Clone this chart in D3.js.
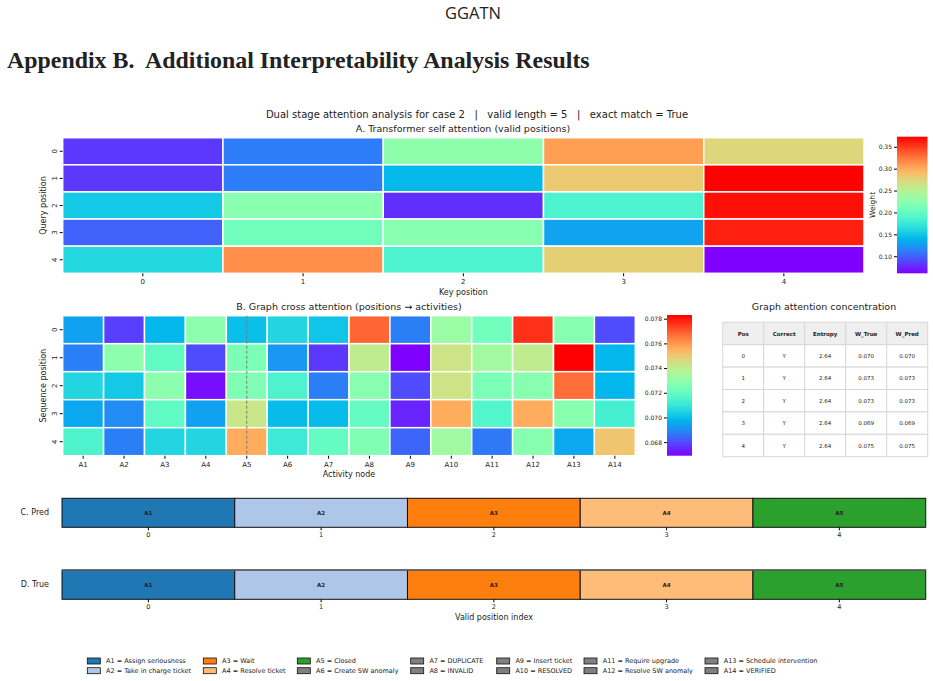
<!DOCTYPE html>
<html>
<head>
<meta charset="utf-8">
<script src="https://cdn.jsdelivr.net/npm/d3@7"></script>
<style>
  body { margin: 0; background: #fff; }
  svg { display: block; }
  text { font-family: "DejaVu Sans", sans-serif; fill: #222; }
</style>
</head>
<body>
<svg id="canvas" width="933" height="681"></svg>
<script>
// ---- data ----
let positions = [0, 1, 2, 3, 4]
let activities = ['A1','A2','A3','A4','A5','A6','A7','A8','A9','A10','A11','A12','A13','A14']

// A. transformer self attention (query x key)
let selfAttn = [
  [0.083, 0.112, 0.226, 0.306, 0.274],
  [0.083, 0.112, 0.142, 0.283, 0.373],
  [0.151, 0.223, 0.079, 0.186, 0.367],
  [0.100, 0.208, 0.222, 0.130, 0.361],
  [0.161, 0.314, 0.186, 0.279, 0.061]
]
let selfAttnRange = [0.061, 0.373]
let selfAttnTicks = [0.10, 0.15, 0.20, 0.25, 0.30, 0.35]

// B. graph cross attention (position x activity)
let crossAttn = [
  [0.0694, 0.0678, 0.0698, 0.0729, 0.0700, 0.0705, 0.0701, 0.0768, 0.0688, 0.0732, 0.0723, 0.0776, 0.0728, 0.0680],
  [0.0688, 0.0729, 0.0719, 0.0680, 0.0725, 0.0692, 0.0677, 0.0740, 0.0669, 0.0743, 0.0734, 0.0740, 0.0783, 0.0698],
  [0.0705, 0.0702, 0.0729, 0.0671, 0.0726, 0.0715, 0.0688, 0.0728, 0.0680, 0.0743, 0.0725, 0.0728, 0.0767, 0.0698],
  [0.0695, 0.0690, 0.0719, 0.0694, 0.0742, 0.0699, 0.0699, 0.0720, 0.0674, 0.0756, 0.0716, 0.0756, 0.0728, 0.0713],
  [0.0715, 0.0688, 0.0705, 0.0705, 0.0756, 0.0711, 0.0720, 0.0726, 0.0684, 0.0733, 0.0687, 0.0728, 0.0695, 0.0751]
]
let crossAttnRange = [0.0669, 0.0783]
let crossAttnTicks = [0.068, 0.070, 0.072, 0.074, 0.076, 0.078]
let markedActivity = 'A5'

// table
let tablePos = ['0', '1', '2', '3', '4']
let tableCorrect = ['Y', 'Y', 'Y', 'Y', 'Y']
let tableEntropy = ['2.64', '2.64', '2.64', '2.64', '2.64']
let tableWTrue = ['0.070', '0.073', '0.073', '0.069', '0.075']
let tableWPred = ['0.070', '0.073', '0.073', '0.069', '0.075']
let tableHeader = ['Pos', 'Correct', 'Entropy', 'W_True', 'W_Pred']

// C / D sequences
let predSeq = ['A1', 'A2', 'A3', 'A4', 'A5']
let trueSeq = ['A1', 'A2', 'A3', 'A4', 'A5']

// legend
let legendCodes = ['A1','A2','A3','A4','A5','A6','A7','A8','A9','A10','A11','A12','A13','A14']
let legendNames = ['Assign seriousness', 'Take in charge ticket', 'Wait', 'Resolve ticket', 'Closed',
  'Create SW anomaly', 'DUPLICATE', 'INVALID', 'Insert ticket', 'RESOLVED', 'Require upgrade',
  'Resolve SW anomaly', 'Schedule intervention', 'VERIFIED']
let activityColors = ['#1f77b4', '#aec7e8', '#ff7f0e', '#ffbb78', '#2ca02c']
let otherColor = '#808080'

// ---- helpers ----
let svg = d3.select('#canvas')

// matplotlib "rainbow" colormap
let rainbow = (t) => {
  t = Math.max(0, Math.min(1, t))
  let r = Math.min(1, Math.abs(2 * t - 0.5))
  let g = Math.sin(Math.PI * t)
  let b = Math.cos(Math.PI * t / 2)
  return d3.rgb(r * 255, g * 255, b * 255).formatHex()
}

let colorOf = (code) => {
  let i = activities.indexOf(code)
  return i < activityColors.length ? activityColors[i] : otherColor
}

let drawHeatmap = (g, data, xLabels, box, range) => {
  let x = d3.scaleBand().domain(xLabels).range([box.x0, box.x1])
  let y = d3.scaleBand().domain(positions).range([box.y0, box.y1])
  let c = d3.scaleSequential(rainbow).domain(range)
  let cells = []
  data.forEach((row, i) => row.forEach((v, j) => cells.push({ r: positions[i], k: xLabels[j], v: v })))
  g.selectAll('rect.cell')
    .data(cells)
    .enter()
    .append('rect')
    .attr('class', 'cell')
    .attr('x', (d) => x(d.k))
    .attr('y', (d) => y(d.r))
    .attr('width', x.bandwidth())
    .attr('height', y.bandwidth())
    .attr('fill', (d) => c(d.v))
    .attr('stroke', '#fff')
    .attr('stroke-width', 1.5)

  // x axis
  let xa = g.append('g').attr('transform', 'translate(0,' + box.y1 + ')')
    .call(d3.axisBottom(x).tickSize(3).tickPadding(3))
  xa.select('.domain').remove()
  xa.selectAll('text').style('font-size', '7px').attr('fill', '#222')
  // y axis, labels rotated like seaborn
  let ya = g.append('g').attr('transform', 'translate(' + box.x0 + ',0)')
    .call(d3.axisLeft(y).tickSize(3).tickPadding(3))
  ya.select('.domain').remove()
  ya.selectAll('text')
    .style('font-size', '7px')
    .attr('fill', '#222')
    .attr('text-anchor', 'middle')
    .attr('dy', 0)
    .attr('x', -8)
    .attr('transform', 'rotate(-90,-8,0)')
    .attr('dominant-baseline', 'middle')
  return x
}

let drawColorbar = (id, box, range, ticks, fmt, title) => {
  let grad = svg.append('defs').append('linearGradient')
    .attr('id', id).attr('x1', 0).attr('y1', 1).attr('x2', 0).attr('y2', 0)
  d3.range(0, 1.0001, 0.02).forEach((t) => {
    grad.append('stop').attr('offset', t).attr('stop-color', rainbow(t))
  })
  svg.append('rect')
    .attr('x', box.x0).attr('y', box.y0)
    .attr('width', box.x1 - box.x0).attr('height', box.y1 - box.y0)
    .attr('fill', 'url(#' + id + ')')
  let s = d3.scaleLinear().domain(range).range([box.y1, box.y0])
  let ax = svg.append('g').attr('transform', 'translate(' + box.x0 + ',0)')
    .call(d3.axisLeft(s).tickValues(ticks).tickFormat(d3.format(fmt)).tickSize(3).tickPadding(2))
  ax.select('.domain').remove()
  ax.selectAll('text').style('font-size', '6px').attr('fill', '#222')
  if (title) {
    svg.append('text')
      .attr('transform', 'translate(' + (box.x0 - 22) + ',' + ((box.y0 + box.y1) / 2) + ') rotate(-90)')
      .attr('text-anchor', 'middle')
      .style('font-size', '7.5px')
      .text(title)
  }
}

// ---- page header ----
svg.append('text')
  .attr('x', 473).attr('y', 19)
  .attr('text-anchor', 'middle')
  .style('font-family', '"Open Sans", sans-serif')
  .style('font-size', '16.5px')
  .text('GGATN')

let heading = svg.append('text')
  .attr('x', 7).attr('y', 68)
  .style('font-family', '"Liberation Serif", "Times New Roman", serif')
  .style('font-weight', 'bold')
  .style('font-size', '23px')
  .attr('xml:space', 'preserve')
  .style('white-space', 'pre')
  .text('Appendix B.  Additional Interpretability Analysis Results')
let hw = heading.node().getComputedTextLength()
heading.style('font-size', (23 * 583 / hw) + 'px')

// ---- titles ----
svg.append('text')
  .attr('x', 477).attr('y', 118)
  .attr('text-anchor', 'middle')
  .style('font-size', '10px')
  .style('white-space', 'pre')
  .text('Dual stage attention analysis for case 2   |   valid length = 5   |   exact match = True')

svg.append('text')
  .attr('x', 463).attr('y', 132)
  .attr('text-anchor', 'middle')
  .style('font-size', '9.5px')
  .text('A. Transformer self attention (valid positions)')

// ---- A heatmap ----
let boxA = { x0: 62.7, x1: 864, y0: 137.7, y1: 273.3 }
drawHeatmap(svg.append('g'), selfAttn, positions, boxA, selfAttnRange)
svg.append('text')
  .attr('x', (boxA.x0 + boxA.x1) / 2).attr('y', 295)
  .attr('text-anchor', 'middle').style('font-size', '8px')
  .text('Key position')
svg.append('text')
  .attr('transform', 'translate(46,' + ((boxA.y0 + boxA.y1) / 2) + ') rotate(-90)')
  .attr('text-anchor', 'middle').style('font-size', '8px')
  .text('Query position')
drawColorbar('cbA', { x0: 897, x1: 927.5, y0: 136.7, y1: 273.3 }, selfAttnRange, selfAttnTicks, '.2f', 'Weight')

// ---- B heatmap ----
let boxB = { x0: 62.7, x1: 635.3, y0: 315.7, y1: 455.7 }
svg.append('text')
  .attr('x', (boxB.x0 + boxB.x1) / 2).attr('y', 310)
  .attr('text-anchor', 'middle').style('font-size', '9.5px')
  .text('B. Graph cross attention (positions \u2192 activities)')
let xB = drawHeatmap(svg.append('g'), crossAttn, activities, boxB, crossAttnRange)
svg.append('line')
  .attr('x1', xB(markedActivity) + xB.bandwidth() / 2)
  .attr('x2', xB(markedActivity) + xB.bandwidth() / 2)
  .attr('y1', boxB.y0).attr('y2', boxB.y1)
  .attr('stroke', '#777').attr('stroke-width', 1)
  .attr('stroke-dasharray', '3,2')
svg.append('text')
  .attr('x', (boxB.x0 + boxB.x1) / 2).attr('y', 477)
  .attr('text-anchor', 'middle').style('font-size', '8px')
  .text('Activity node')
svg.append('text')
  .attr('transform', 'translate(46,' + ((boxB.y0 + boxB.y1) / 2) + ') rotate(-90)')
  .attr('text-anchor', 'middle').style('font-size', '8px')
  .text('Sequence position')
drawColorbar('cbB', { x0: 667, x1: 692, y0: 315, y1: 455.7 }, crossAttnRange, crossAttnTicks, '.3f', null)

// ---- table ----
let tableRows = tablePos.map((p, i) => [p, tableCorrect[i], tableEntropy[i], tableWTrue[i], tableWPred[i]])
let tx = d3.scaleBand().domain(d3.range(5)).range([722.7, 927.7])
let ty = d3.scaleBand().domain(d3.range(6)).range([322.3, 456.7])
svg.append('text')
  .attr('x', 824).attr('y', 310)
  .attr('text-anchor', 'middle').style('font-size', '9.5px')
  .text('Graph attention concentration')
let allRows = [tableHeader].concat(tableRows)
allRows.forEach((row, ri) => {
  row.forEach((val, ci) => {
    svg.append('rect')
      .attr('x', tx(ci)).attr('y', ty(ri))
      .attr('width', tx.bandwidth()).attr('height', ty.bandwidth())
      .attr('fill', ri === 0 ? '#efefef' : '#fff')
      .attr('stroke', '#d8d8d8').attr('stroke-width', 1)
    svg.append('text')
      .attr('x', tx(ci) + tx.bandwidth() / 2)
      .attr('y', ty(ri) + ty.bandwidth() / 2)
      .attr('text-anchor', 'middle')
      .attr('dominant-baseline', 'central')
      .style('font-size', '5.5px')
      .style('font-weight', ri === 0 ? 'bold' : 'normal')
      .attr('fill', '#333')
      .text(val)
  })
})

// ---- C / D bars ----
let xs = d3.scaleBand().domain(positions).range([62, 925.7])
let drawSeq = (seq, label, y0, y1) => {
  let g = svg.append('g')
  g.selectAll('rect')
    .data(seq)
    .enter()
    .append('rect')
    .attr('x', (d, i) => xs(positions[i]))
    .attr('y', y0)
    .attr('width', xs.bandwidth())
    .attr('height', y1 - y0)
    .attr('fill', (d) => colorOf(d))
    .attr('stroke', '#111').attr('stroke-width', 1)
  g.selectAll('text.lbl')
    .data(seq)
    .enter()
    .append('text')
    .attr('class', 'lbl')
    .attr('x', (d, i) => xs(positions[i]) + xs.bandwidth() / 2)
    .attr('y', (y0 + y1) / 2)
    .attr('text-anchor', 'middle')
    .attr('dominant-baseline', 'central')
    .style('font-size', '5.5px')
    .style('font-weight', 'bold')
    .text((d) => d)
  let ax = g.append('g').attr('transform', 'translate(0,' + y1 + ')')
    .call(d3.axisBottom(xs).tickSize(3).tickPadding(2))
  ax.select('.domain').remove()
  ax.selectAll('text').style('font-size', '6.5px').attr('fill', '#222')
  g.append('text')
    .attr('x', 49).attr('y', (y0 + y1) / 2)
    .attr('text-anchor', 'end')
    .attr('dominant-baseline', 'central')
    .style('font-size', '8px')
    .text(label)
  return g
}
drawSeq(predSeq, 'C. Pred', 498.3, 527.3)
drawSeq(trueSeq, 'D. True', 570, 599.3)
svg.append('line')
  .attr('x1', 62).attr('x2', 925.7).attr('y1', 570).attr('y2', 570)
  .attr('stroke', '#666').attr('stroke-width', 1.5)
svg.append('text')
  .attr('x', 494).attr('y', 620)
  .attr('text-anchor', 'middle').style('font-size', '8px')
  .text('Valid position index')

// ---- legend ----
let legendCols = [87.3, 203.3, 297.3, 410.7, 496.7, 584, 705, 829]
let legendRowsY = [661, 670.7]
legendCodes.forEach((code, i) => {
  let cx = legendCols[Math.floor(i / 2)]
  let cy = legendRowsY[i % 2]
  svg.append('rect')
    .attr('x', cx).attr('y', cy - 3)
    .attr('width', 13).attr('height', 6)
    .attr('fill', colorOf(code))
    .attr('stroke', '#111').attr('stroke-width', 0.8)
  svg.append('text')
    .attr('x', cx + 18.7).attr('y', cy)
    .attr('dominant-baseline', 'central')
    .style('font-size', '6.5px')
    .text(code + ' = ' + legendNames[i])
})
</script>
</body>
</html>
